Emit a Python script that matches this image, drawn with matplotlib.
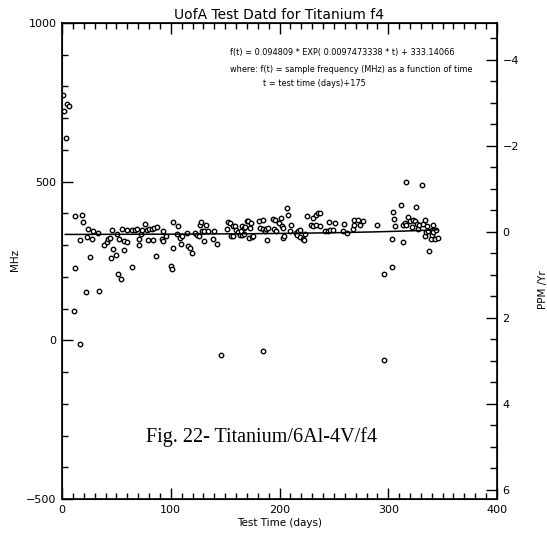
import matplotlib.pyplot as plt
import numpy as np

# Data (test day, frequency in MHz)
days = [1, 2, 4, 5, 6,
        11, 12, 12, 16.5, 17, 18, 19.6, 22, 23.3, 24, 25.7, 27.8, 28.8, 33.5, 34.3,
        39, 41, 42.5, 44, 44.8, 45.8, 47.2, 49.3, 50.3, 51.9, 52.4, 54.4, 54.9, 56.6, 56.6,
        60, 59.5, 64, 64.4, 67, 68.7, 70.5, 71, 73, 73.3, 76.3, 78, 78.8, 80.3, 82.8,
        84, 84.9, 86.1, 87.4, 91.7, 92.6, 93.2, 95.3, 100, 100.9, 101.8, 102.3, 105.4,
        107, 108.5, 109.4, 110, 114.7, 116.3, 117.9, 119.8, 122.3, 124, 126, 126.5,
        127.8, 128.4, 130.5, 130.9, 132.4, 134.5, 138.4, 139.5, 142.4, 146.5,
        151.6, 153, 154.5, 155.5, 157.5, 157.5, 159, 160.4, 162, 163.5, 165.2, 164.5,
        165.4, 166.9, 167.6, 168.3, 169.8, 171.3, 172.2, 173.8, 172.9, 174.4, 175.4,
        181, 182, 184.5, 185.1, 185, 186.7, 187.6, 188.8, 189.7,
        193.7, 195.9, 195, 196.8, 199.8, 201.2, 202.5, 203.5, 203, 204.4, 206.6, 208.1,
        209.3, 210.8, 215.5, 215.8, 217, 218.9, 219.2, 221.3, 222.5, 223.4, 225,
        229.2, 230.8, 231, 233.6, 233.4, 235.7, 237, 237.2, 241.5, 244.3, 246.4, 248.8,
        245.6, 251, 258.5, 259.5, 262, 267.3, 268.7, 268.8, 272.5, 274, 277, 289.4,
        295.8, 296.5, 303.2, 303.2, 304, 305.3, 306.2, 311.4, 313.8, 313.5, 315.4,
        316.3, 316.1, 318.5, 320, 321.6, 322.5, 324.6, 325.2, 326.1, 327, 328.3,
        330.7, 332.2, 333.8, 333.5, 335, 336, 336.5, 337.8, 339, 340.5, 341, 340,
        341.5, 342.8, 346, 344.2]
mhz = [774, 724, 639, 744, 738,
       92, 391, 228, 316, -13, 394, 372, 152, 327, 351, 263, 320, 346, 339, 157,
       301, 310, 318, 323, 260, 349, 288, 270, 336, 208, 318, 192, 351, 312, 286,
       310, 349, 349, 231, 349, 351, 320, 299, 336, 349, 366, 349, 315, 351, 352,
       315, 353, 266, 356, 320, 344, 313, 328, 234, 225, 291, 374, 336,
       360, 323, 305, 328, 338, 298, 291, 276, 339, 333, 328, 364,
       372, 345, 346, 313, 362, 345, 319, 344, 305, -46,
       350, 372, 370, 330, 330, 361, 359, 348, 340, 333, 333, 344,
       361, 336, 354, 357, 375, 376, 321, 369, 355, 327, 330,
       377, 353, 378, -34, 351, 344, 351, 316, 354,
       383, 380, 350, 344, 369, 386, 360, 354, 323, 328, 416, 396,
       344, 364, 339, 333, 345, 347, 327, 320, 316, 334, 391,
       362, 360, 385, 362, 394, 400, 402, 361, 344, 345, 349, 348,
       372, 370, 344, 367, 339, 351, 378, 363, 378, 362, 376, 362,
       208, -62, 231, 318, 405, 383, 360, 425, 309, 365, 370,
       499, 362, 388, 375, 356, 380, 375, 420, 368, 351, 365,
       488, 368, 380, 330, 341, 360, 344, 281, 318, 349, 362, 333,
       341, 320, 323, 349]

# Fit coefficients printed on the chart: f(t) = A * EXP(B * t) + C, t = day + 175
fit_a = 0.094809
fit_b = 0.0097473338
fit_c = 333.14066
fit_offset = 175
fit_start, fit_end = 3, 345

fig = plt.figure(figsize=(5.47, 5.35), dpi=100)
ax = fig.add_axes([62 / 547, 1 - 499 / 535, 435 / 547, 476 / 535])

ax.plot(days, mhz, linestyle='none', marker='o', markersize=3.2,
        markerfacecolor='white', markeredgecolor='black', markeredgewidth=1.0)

t = np.linspace(fit_start, fit_end, 200)
ax.plot(t, fit_a * np.exp(fit_b * (t + fit_offset)) + fit_c, color='black', lw=1.1)

ax.set_xlim(0, 400)
ax.set_ylim(-500, 1000)
ax.set_xticks([0, 100, 200, 300, 400])
ax.set_xticks(np.arange(0, 401, 10), minor=True)
ax.set_yticks([-500, 0, 500, 1000])
ax.set_yticks(np.arange(-500, 1001, 100), minor=True)
ax.tick_params(which='both', direction='in', top=True, right=False,
               labelsize=8, width=1)
ax.tick_params(which='major', length=8, pad=4)
ax.tick_params(which='minor', length=4)
for s in ax.spines.values():
    s.set_linewidth(1.2)

# Right axis in PPM/Yr (inverted)
ax2 = ax.twinx()
ax2.set_ylim(6.21, -4.86)
ax2.set_yticks([-4, -2, 0, 2, 4, 6])
ax2.set_yticks(np.arange(-4.5, 6.01, 0.5), minor=True)
ax2.tick_params(which='both', direction='in', labelsize=8, width=1)
ax2.tick_params(which='major', length=8, pad=4)
ax2.tick_params(which='minor', length=5)

ax.set_title('UofA Test Datd for Titanium f4', fontsize=10, pad=3)
fig.text(15 / 547, 1 - 260 / 535, 'MHz', rotation=90, ha='center', va='center', fontsize=7.5)
fig.text(280 / 547, 1 - 523 / 535, 'Test Time (days)', ha='center', va='center', fontsize=7.5)
fig.text(543 / 547, 1 - 290 / 535, 'PPM /Yr', rotation=90, ha='center', va='center', fontsize=7.5)

fig.text(230 / 547, 1 - 53 / 535,
         f'f(t) = {fit_a} * EXP( {fit_b} * t) + {fit_c}', fontsize=5.9, va='center')
fig.text(230 / 547, 1 - 69 / 535,
         'where: f(t) = sample frequency (MHz) as a function of time', fontsize=5.9, va='center')
fig.text(263 / 547, 1 - 83 / 535, 't = test time (days)+175', fontsize=5.9, va='center')

fig.text(262 / 547, 1 - 437 / 535, 'Fig. 22- Titanium/6Al-4V/f4', family='Liberation Serif',
         fontsize=14.5, ha='center', va='center')

fig.savefig('out.png', dpi=100)
